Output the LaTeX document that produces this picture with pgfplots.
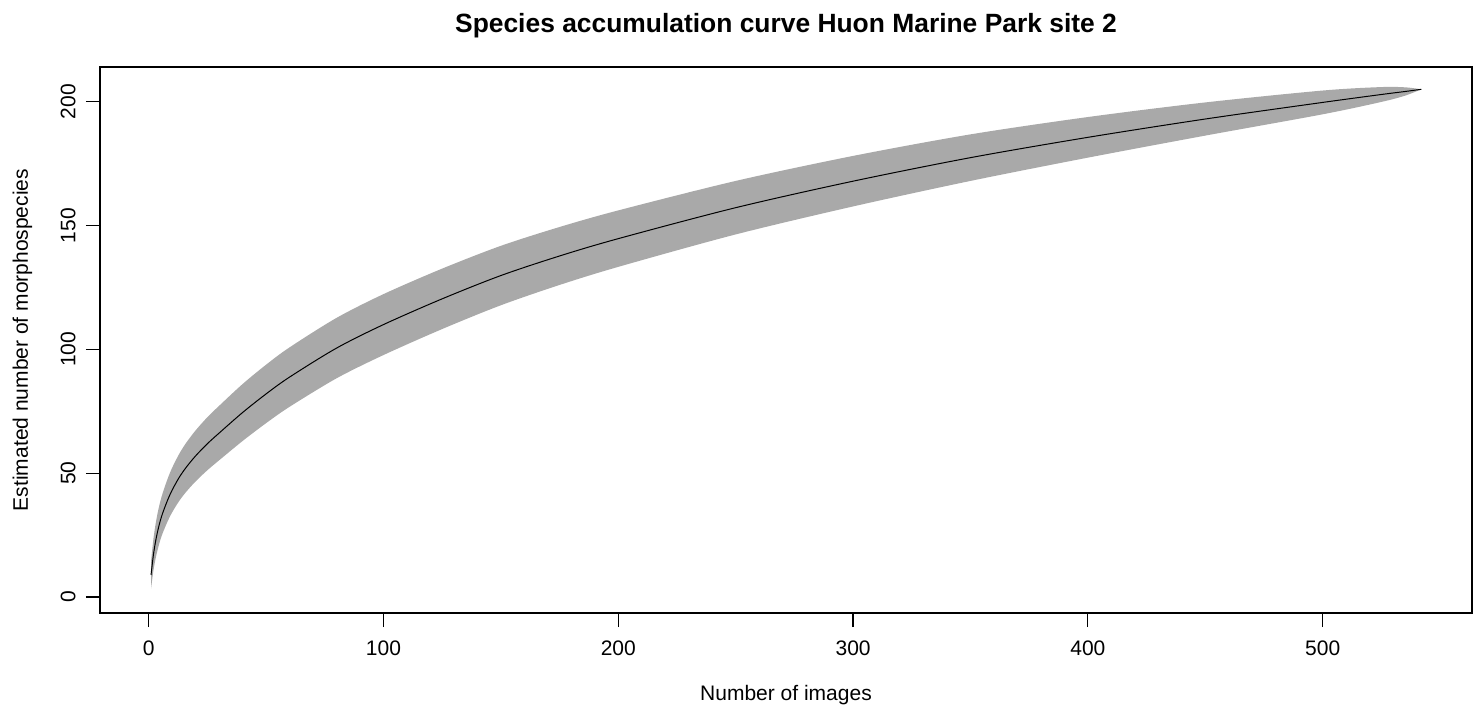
\documentclass[border=0pt]{standalone}
\usepackage{fontspec}
\setmainfont{Liberation Sans}
\usepackage{pgfplots}
\pgfplotsset{compat=1.18}
\usepackage{pgfplotstable}
\usepgfplotslibrary{fillbetween}

\definecolor{bandgray}{HTML}{A9A9A9}

% Species accumulation: mean richness and +/- 2 sd envelope
\pgfplotstableread{
x   mean   lo     hi
1   8.9    3.4    14.4
2   17.0   10.6   23.4
3   22.8   15.8   29.8
4   27.3   19.8   34.8
5   31.0   23.2   38.8
6   34.0   25.9   42.1
8   39.0   30.4   47.6
10  43.2   34.2   52.2
13  48.3   38.8   57.8
16  52.4   42.5   62.3
20  57.0   46.7   67.3
25  61.9   51.2   72.6
30  66.2   55.2   77.2
40  74.5   63.0   86.0
50  82.0   70.2   93.8
60  88.8   76.8   100.8
80  100.5  88.3   112.7
100 110.0  97.7   122.3
125 120.4  108.2  132.6
150 129.8  117.8  141.8
175 137.7  126.0  149.4
200 144.7  133.3  156.1
250 157.2  146.4  168.0
300 167.9  157.7  178.1
350 177.4  168.0  186.8
400 185.6  177.4  193.8
450 193.0  186.3  199.7
500 199.7  194.9  204.5
525 202.9  199.9  205.9
535 204.1  202.4  205.8
542 205.0  205.0  205.0
}\accum

\begin{document}
\begin{tikzpicture}
\begin{axis}[
  at={(0pt,0pt)}, anchor=south west,
  scale only axis, width=686pt, height=273pt,
  xmin=-20.74, xmax=563.6, ymin=-6.46, ymax=214.0,
  xtick={0,100,...,500}, ytick={0,50,...,200},
  tick pos=left, tick align=outside, major tick length=7pt,
  axis line style={black, line width=0.6pt},
  tick style={black, line width=0.6pt},
  font=\fontsize{10.5}{12.6}\selectfont,
  /pgf/number format/assume math mode=true,
  xticklabel style={anchor=north, inner sep=0pt},
  xticklabel shift=6.75pt,
  yticklabel style={rotate=90, anchor=south, inner sep=0pt},
  yticklabel shift=5pt,
  title={Species accumulation curve Huon Marine Park site 2},
  title style={at={(rel axis cs:0.5,1)}, yshift=11.2pt, anchor=base,
    font=\fontsize{13.2}{16}\selectfont\bfseries},
  xlabel={Number of images},
  xlabel style={at={(rel axis cs:0.5,0)}, yshift=-43.5pt, anchor=base},
  ylabel={Estimated number of morphospecies},
  ylabel style={at={(rel axis cs:0,0.5)}, rotate=-90, xshift=-36pt, rotate=90, anchor=base},
]
\addplot[name path=upper, draw=none, smooth] table[x=x, y=hi] {\accum};
\addplot[name path=lower, draw=none, smooth] table[x=x, y=lo] {\accum};
\addplot[bandgray, draw=none] fill between[of=upper and lower];
\addplot[black, line width=0.5pt, smooth] table[x=x, y=mean] {\accum};
\end{axis}
\pgfresetboundingbox
\useasboundingbox (-50pt,-47.5pt) rectangle (691pt,306.5pt);
\end{tikzpicture}
\end{document}
